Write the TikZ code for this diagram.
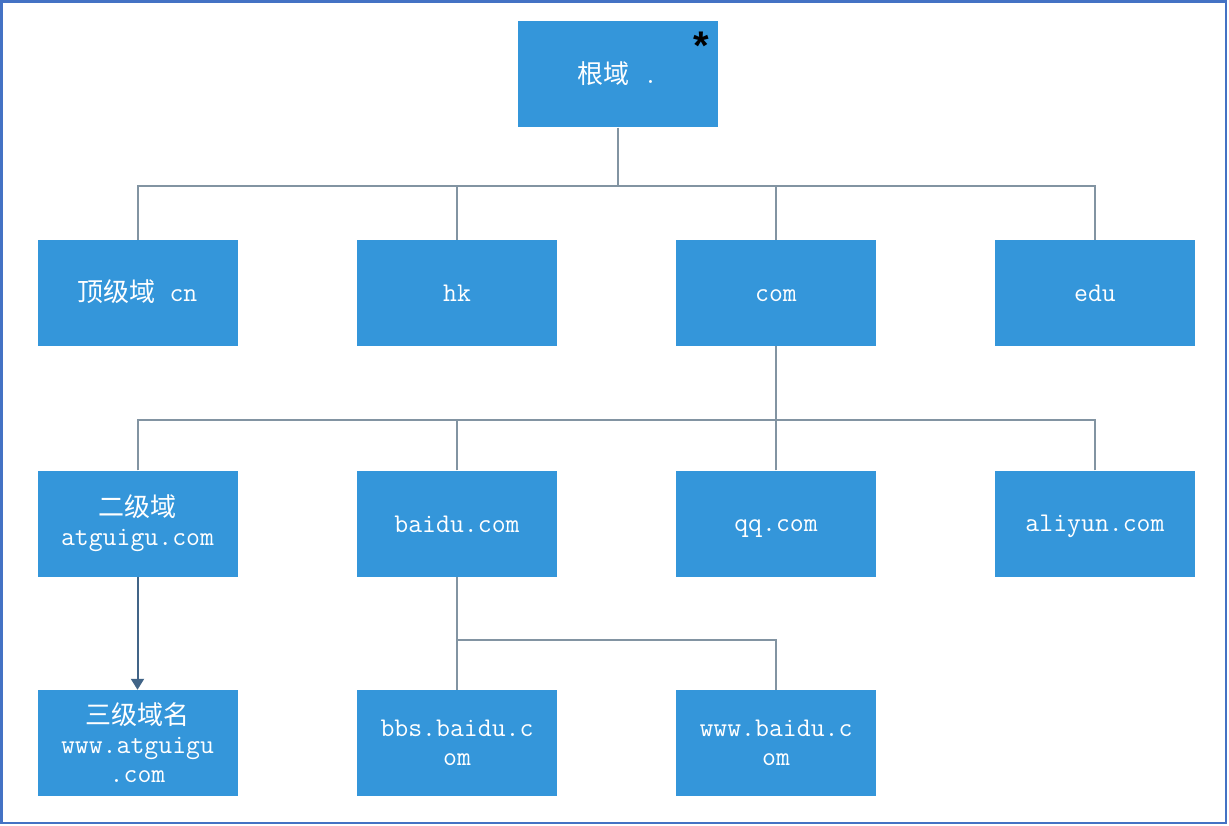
\documentclass[tikz,border=0pt]{standalone}
\usepackage{fontspec}
\setmainfont{Liberation Sans}
\newfontfamily\cjk{Noto Sans CJK SC}
\usetikzlibrary{arrows.meta}
\definecolor{boxblue}{RGB}{52,150,218}
\definecolor{linegray}{RGB}{130,148,162}
\definecolor{arrowc}{RGB}{65,100,135}
\definecolor{framec}{RGB}{68,114,196}
\newcommand{\zh}[1]{{\cjk\fontsize{26}{29}\selectfont #1}}
\newcommand{\mystrut}{\rule[-4.4pt]{0pt}{26.4pt}}
\tikzset{
 dbox/.style={fill=boxblue, draw=none, minimum width=200pt, minimum height=106pt, text=white,
   font=\ttfamily\fontsize{27}{29}\selectfont, align=center, inner sep=0pt},
 conn/.style={draw=linegray, line width=2pt},
}
\begin{document}
\begin{tikzpicture}[x=1pt,y=-1pt]
\useasboundingbox (0,0) rectangle (1229,826);
\fill[white] (0,0) rectangle (1229,826);
\draw[framec, line width=2.5pt] (1.5,1.5) rectangle (1226,823);
% nodes
\node[dbox] (root) at (617.5,74.5) {\mystrut\zh{根域} .};
\node[font=\fontsize{40}{40}\selectfont\bfseries, inner sep=0pt] (star) at (701,46) {*};
\node[dbox] (cn) at (137.5,293) {\mystrut\zh{顶级域} cn};
\node[dbox] (hk) at (457,293) {\mystrut hk};
\node[dbox] (com) at (776,293) {\mystrut com};
\node[dbox] (edu) at (1095,293) {\mystrut edu};
\node[dbox] (sld) at (137.5,523.5) {\zh{二级域}\\atguigu.com};
\node[dbox] (baidu) at (457,523.5) {\mystrut baidu.com};
\node[dbox] (qq) at (776,523.5) {\mystrut qq.com};
\node[dbox] (aliyun) at (1095,523.5) {\mystrut aliyun.com};
\node[dbox] (third) at (137.5,743) {\zh{三级域名}\\www.atguigu\\.com};
\node[dbox] (bbs) at (457,743) {bbs.baidu.c\\om};
\node[dbox] (www) at (776,743) {www.baidu.c\\om};
% bus coordinates
\coordinate (b1) at (617.5,186);
\coordinate (b2) at (776,420);
\coordinate (b3) at (457,640);
% connectors
\draw[conn] (root.south) -- (b1);
\draw[conn] (cn.north) |- (b1);
\draw[conn] (hk.north) |- (b1);
\draw[conn] (com.north) |- (b1);
\draw[conn] (edu.north) |- (b1);
\draw[conn] (com.south) -- (b2);
\draw[conn] (sld.north) |- (b2);
\draw[conn] (baidu.north) |- (b2);
\draw[conn] (qq.north) -- (b2);
\draw[conn] (aliyun.north) |- (b2);
\draw[conn] (baidu.south) -- (b3);
\draw[conn] (bbs.north) -- (b3);
\draw[conn] (www.north) |- (b3);
\draw[arrowc, line width=2pt, -{Triangle[length=11pt,width=13pt]}] (sld.south) -- (third.north);
\end{tikzpicture}
\end{document}
